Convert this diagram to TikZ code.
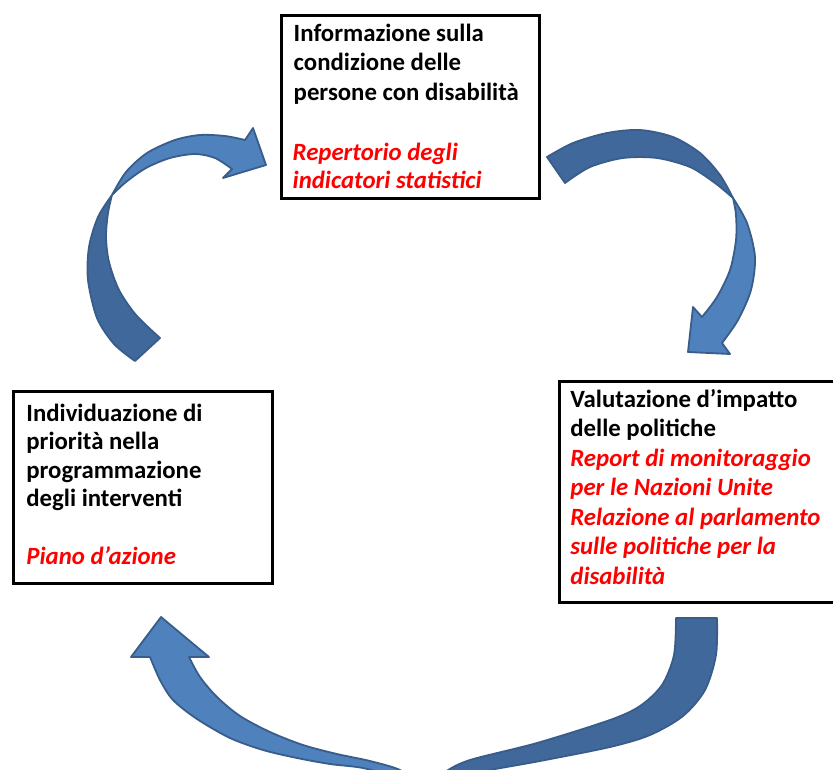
\documentclass[tikz,border=0pt]{standalone}
\usepackage{fontspec}
\setmainfont{Carlito}
\definecolor{alight}{HTML}{4F81BD}
\definecolor{adark}{HTML}{41689A}
\definecolor{aedge}{HTML}{385D8A}
\begin{document}
\begin{tikzpicture}[x=1pt,y=-1pt,
  box/.style={draw=black, line width=3pt, inner sep=0pt, anchor=north west},
  btext/.style={anchor=base west, align=left, inner sep=0pt, text=black},
  rtext/.style={anchor=base west, align=left, inner sep=0pt, text=red},
  light/.style={fill=alight, draw=aedge, line width=1.8pt, line join=round},
  dark/.style={fill=adark, draw=aedge, line width=1.8pt, line join=round}]
\useasboundingbox[fill=white] (0,0) rectangle (833,769);

% boxes
\node[box, minimum width=258pt, minimum height=183pt] (info) at (280,13.5) {};
\node[box, minimum width=282pt, minimum height=220.5pt] (valu) at (558,380) {};
\node[box, minimum width=258.5pt, minimum height=191.5pt] (indi) at (12,390) {};

% texts (base anchor = baseline of the last line)
\node[btext, font=\fontsize{24.8}{29.2}\selectfont\bfseries] (infoT) at (293.5,100)
  {Informazione sulla\\condizione delle\\persone con disabilità};
\node[rtext, font=\fontsize{24.8}{27.5}\selectfont\bfseries\itshape] (infoR) at (292.5,188)
  {Repertorio degli\\indicatori statistici};
\node[btext, font=\fontsize{24.8}{29.5}\selectfont\bfseries] (valuT) at (570.2,436.5)
  {Valutazione d’impatto\\delle politiche};
\node[rtext, font=\fontsize{24.8}{29.5}\selectfont\bfseries\itshape] (valuR) at (570.2,584)
  {Report di monitoraggio\\per le Nazioni Unite\\Relazione al parlamento\\sulle politiche per la\\disabilità};
\node[btext, font=\fontsize{24.8}{28.4}\selectfont\bfseries] (indiT) at (26.2,506.7)
  {Individuazione di\\priorità nella\\programmazione\\degli interventi};
\node[rtext, font=\fontsize{24.8}{29}\selectfont\bfseries\itshape] (indiR) at (26.2,564)
  {Piano d’azione};

% arrow 1 (left, up to top box)
\filldraw[dark] plot[smooth] coordinates {(112,195) (98,217) (89,247) (88,280) (97,318) (114,344) (135,361)}
  -- plot[smooth] coordinates {(160,338) (136,315) (119,290) (109,262) (106,237) (108,213) (112,195)} -- cycle;
\filldraw[light] plot[smooth] coordinates {(112,195) (126,172) (147,153) (175,140) (200,135) (225,136) (245,140)}
  -- (253,128) -- (266,165) -- (223,178)
  -- plot[smooth] coordinates {(232,169) (215,158) (195,154) (170,158) (146,168) (126,182) (112,195)} -- cycle;

% arrow 2 (top right, down to right box)
\filldraw[dark] plot[smooth] coordinates {(547,157) (573,143) (607,133) (640,130) (673,137) (700,153) (720,175) (733,198)}
  -- plot[smooth] coordinates {(733,198) (715,183) (690,167) (657,158) (623,158) (590,167) (565,183)} -- cycle;
\filldraw[light] plot[smooth] coordinates {(733,198) (747,223) (755,257) (751,290) (738,320) (722,343)}
  -- (730,354) -- (688,352) -- (693,307)
  -- plot[smooth] coordinates {(702,317) (717,297) (730,270) (736,240) (736,215) (733,198)} -- cycle;

% arrow 3 (bottom, from right box to left box)
\filldraw[dark] plot[smooth] coordinates {(717,618) (716,655) (705,690) (683,716) (650,735) (610,747) (540,761) (480,772) (430,785)}
  -- plot[smooth] coordinates {(430,785) (445,772) (470,760) (537,743) (610,720) (640,706) (662,685) (674,655) (676,618)} -- cycle;
\filldraw[light] plot[smooth] coordinates {(420,785) (400,778) (363,768) (330,764) (297,758) (263,750) (230,738) (197,719) (173,700) (160,680) (150,657)}
  -- (131,657) -- (161,617) -- (209,657)
  -- plot[smooth] coordinates {(189,657) (200,677) (217,697) (240,716) (270,732) (303,745) (337,754) (370,761) (400,770) (420,785)} -- cycle;
\end{tikzpicture}
\end{document}
